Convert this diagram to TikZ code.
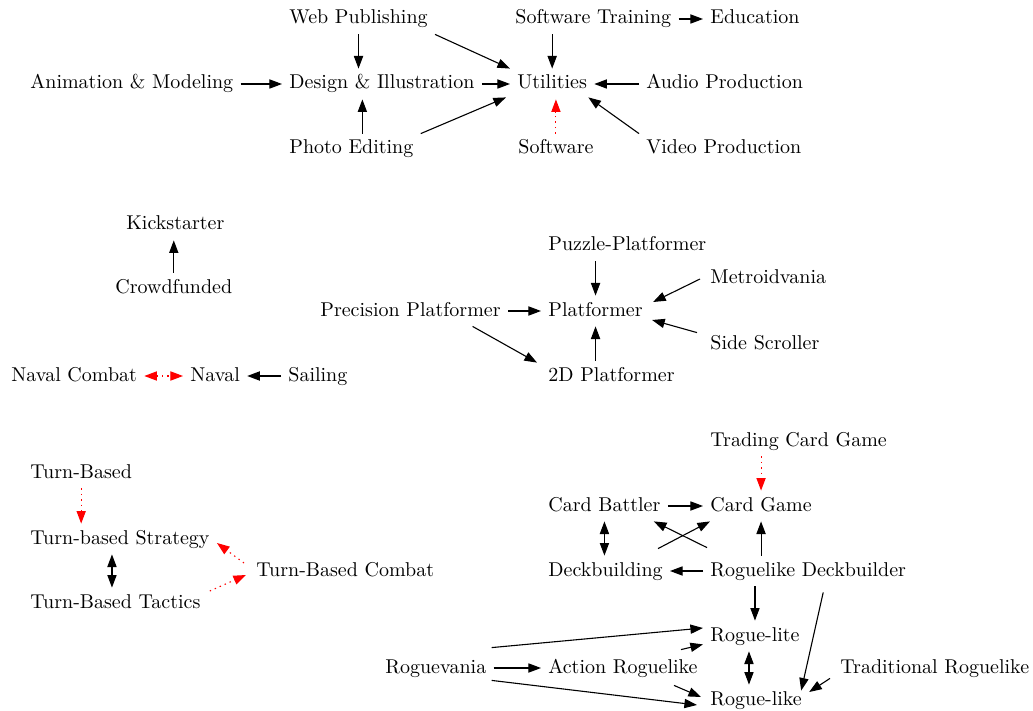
\documentclass[tikz,border=0pt]{standalone}
\usetikzlibrary{arrows.meta,calc}
\begin{document}
\begin{tikzpicture}[x=0.5pt,y=-0.5pt,
  n/.style={anchor=base west, inner xsep=3.5pt, inner ysep=3pt, text height=7pt, text depth=2pt, xshift=-3.5pt, yshift=-3.5pt},
  e/.style={line width=0.55pt, -{Triangle[length=6.3pt,width=4.6pt]}},
  ee/.style={line width=0.55pt, {Triangle[length=6.3pt,width=4.6pt]}-{Triangle[length=6.3pt,width=4.6pt]}},
  r/.style={e, red, dash pattern=on 0.7pt off 2pt},
  rr/.style={ee, red, dash pattern=on 0.7pt off 2pt}]
\useasboundingbox (0,0) rectangle (1033,711);
% top cluster
\node[n] (wp) at (289,17) {Web Publishing};
\node[n] (st) at (515,17) {Software Training};
\node[n] (ed) at (710,17) {Education};
\node[n] (an) at (30,82) {Animation \& Modeling};
\node[n] (di) at (289,82) {Design \& Illustration};
\node[n] (ut) at (517,82) {Utilities};
\node[n] (au) at (646,82) {Audio Production};
\node[n] (pe) at (289,147) {Photo Editing};
\node[n] (sw) at (518,147) {Software};
\node[n] (vp) at (646,147) {Video Production};
% middle
\node[n] (ks) at (126,223) {Kickstarter};
\node[n] (cf) at (115,286) {Crowdfunded};
\node[n] (pz) at (548,244) {Puzzle-Platformer};
\node[n] (mv) at (710,277) {Metroidvania};
\node[n] (pr) at (320,309) {Precision Platformer};
\node[n] (pl) at (548,309) {Platformer};
\node[n] (ss) at (710,342) {Side Scroller};
\node[n] (nc) at (11,374) {Naval Combat};
\node[n] (nv) at (190,374) {Naval};
\node[n] (sa) at (288,374) {Sailing};
\node[n] (td) at (548,374) {2D Platformer};
% bottom
\node[n] (tc) at (710,439) {Trading Card Game};
\node[n] (tb) at (30,471) {Turn-Based};
\node[n] (cb) at (548,504) {Card Battler};
\node[n] (cg) at (710,504) {Card Game};
\node[n] (ts) at (30,537) {Turn-based Strategy};
\node[n] (db) at (548,569) {Deckbuilding};
\node[n] (rd) at (710,569) {Roguelike Deckbuilder};
\node[n] (tbc) at (256,569) {Turn-Based Combat};
\node[n] (tt) at (30,601) {Turn-Based Tactics};
\node[n] (rlt) at (710,634) {Rogue-lite};
\node[n] (rv) at (385,666) {Roguevania};
\node[n] (ar) at (548,666) {Action Roguelike};
\node[n] (tr) at (840,666) {Traditional Roguelike};
\node[n] (rlk) at (710,698) {Rogue-like};

% top edges
\draw[e] (wp.south) -- (wp.south |- di.north);
\draw[e] (wp.south east) -- (ut.north west);
\draw[e] (ut.north |- st.south) -- (ut.north);
\draw[e] (st.east) -- (ed.west);
\draw[e] (an.east) -- (di.west);
\draw[e] (di.east) -- (ut.west);
\coordinate (pe1) at ($(pe.north)+(11,0)$);
\draw[e] (pe1) -- (pe1 |- di.south);
\draw[e] (pe.north east) -- ($(ut.south west)+(-4,-2)$);
\draw[e] (au.west) -- (ut.east);
\draw[e] (vp.north west) -- ($(ut.south east)+(-6,-2)$);
\draw[r] (sw.north) -- (sw.north |- ut.south);
% middle edges
\draw[e] (cf.north) -- (cf.north |- ks.south);
\draw[e] (pl.north |- pz.south) -- (pl.north);
\draw[e] ($(mv.west)+(-3,0)$) -- ($(pl.east)+(3,-9)$);
\draw[e] (pr.east) -- (pl.west);
\draw[e] ($(ss.north west)+(-6,4)$) -- ($(pl.east)+(2,9)$);
\coordinate (pr1) at ($(pr.south)+(62,0)$);
\draw[e] (pr1) -- ($(td.north west)+(-4,2)$);
\draw[e] (pl.south |- td.north) -- (pl.south);
\draw[rr] (nc.east) -- (nv.west);
\draw[e] (sa.west) -- (nv.east);
% bottom edges
\draw[r] (cg.north |- tc.south) -- (cg.north);
\draw[r] (tb.south) -- (tb.south |- ts.north);
\draw[e] (cb.east) -- (cg.west);
\draw[ee] (cb.south) -- (cb.south |- db.north);
\draw[e] ($(db.north east)+(-12,-7)$) -- ($(cg.south west)+(7,0)$);
\draw[e] ($(rd.north west)+(4,-8)$) -- ($(cb.south east)+(-14,0)$);
\draw[e] (cg.south |- rd.north) -- (cg.south);
\draw[e] (rd.west) -- (db.east);
\coordinate (ts1) at ($(ts.south)+(-8,0)$);
\draw[ee] (ts1) -- (ts1 |- tt.north);
\draw[r] ($(tbc.west)+(-5,-8)$) -- ($(ts.east)+(0,4)$);
\draw[r] ($(tt.east)+(2,-12)$) -- ($(tbc.west)+(-3,4)$);
\draw[e] (rlt.north |- rd.south) -- (rlt.north);
\draw[e] ($(rd.south)+(15,6)$) -- ($(rlk.north east)+(-8,6)$);
\draw[e] ($(rv.north east)+(-2,-5)$) -- ($(rlt.west)+(0,-8)$);
\draw[e] (rv.east) -- (ar.west);
\draw[e] ($(rv.south east)+(-2,-3)$) -- ($(rlk.west)+(-6,5)$);
\draw[e] ($(ar.north east)+(-24,-3)$) -- ($(rlt.south west)+(0,-7)$);
\draw[e] ($(ar.south east)+(-31,2)$) -- ($(rlk.west)+(-2,-3)$);
\coordinate (rl1) at ($(rlt.south)+(-6,0)$);
\draw[ee] (rl1) -- (rl1 |- rlk.north);
\draw[e] ($(tr.south west)+(-3,-5)$) -- ($(rlk.east)+(0,-8)$);
\end{tikzpicture}
\end{document}
